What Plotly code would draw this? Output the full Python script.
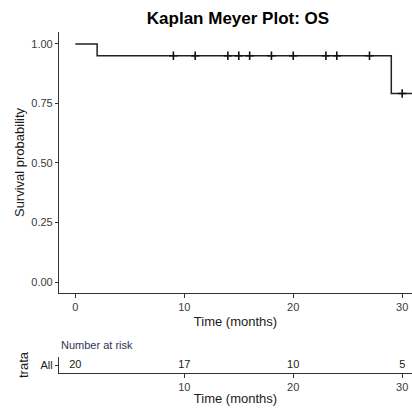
import plotly.graph_objects as go

# ---- data ----
step_times = [0, 2, 29, 31]
step_surv = [1.0, 0.95, 0.7917, 0.7917]
censor_times = [9, 11, 14, 15, 16, 18, 20, 23, 24, 27, 30]
censor_surv = [0.95] * 10 + [0.7917]
risk_times = [0, 10, 20, 30]
risk_counts = [20, 17, 10, 5]
strata = ["All"]
x_ticks = [0, 10, 20, 30]
y_ticks = [0.0, 0.25, 0.5, 0.75, 1.0]
y_tick_labels = ["0.00", "0.25", "0.50", "0.75", "1.00"]

W, H = 412, 414
FONT = "Liberation Sans, Arial, sans-serif"
TICKC = "#3a3a3a"
AXC = "#333333"
TXT = "#1a1a1a"

fig = go.Figure()
fig.add_trace(go.Scatter(x=step_times, y=step_surv, mode="lines",
                         line=dict(shape="hv", color="#222222", width=1.5),
                         xaxis="x", yaxis="y", showlegend=False, cliponaxis=True))
fig.add_trace(go.Scatter(x=censor_times, y=censor_surv, mode="markers",
                         marker=dict(symbol="cross-thin", size=6, line=dict(color="#111111", width=1.6)),
                         xaxis="x", yaxis="y", showlegend=False))
fig.add_trace(go.Scatter(x=risk_times, y=strata * len(risk_times), mode="text",
                         text=[str(v) for v in risk_counts], textposition="middle center",
                         textfont=dict(family=FONT, size=11, color=TXT),
                         xaxis="x2", yaxis="y2", showlegend=False, cliponaxis=False))

xr = [-1.5, 30.9]
fig.update_layout(
    width=W, height=H,
    margin=dict(l=0, r=0, t=0, b=0),
    paper_bgcolor="white", plot_bgcolor="white",
    font=dict(family=FONT, color=TICKC),
    title=dict(text="<b>Kaplan Meyer Plot: OS</b>", x=238 / W, xanchor="center",
               y=1 - 18 / H, yanchor="middle", font=dict(size=17, color="black", family=FONT)),
    xaxis=dict(domain=[59 / W, 1], range=xr, tickvals=x_ticks, ticks="outside", ticklen=4,
               tickcolor=AXC, showline=True, linecolor=AXC, linewidth=1.2, showgrid=False,
               zeroline=False, tickfont=dict(size=11, color=TICKC),
               title=dict(text="Time (months)", font=dict(size=13, color=TXT), standoff=4),
               anchor="y"),
    yaxis=dict(domain=[1 - 293 / H, 1 - 32 / H], range=[-0.046, 1.05], tickvals=y_ticks,
               ticktext=y_tick_labels, ticks="outside", ticklen=3, tickcolor=AXC,
               showline=True, linecolor=AXC, linewidth=1.2, showgrid=False, zeroline=False,
               tickfont=dict(size=11, color=TICKC),
               title=dict(text="Survival probability", font=dict(size=13, color=TXT), standoff=3),
               anchor="x"),
    xaxis2=dict(domain=[59 / W, 1], range=xr, tickvals=x_ticks[1:], ticks="outside", ticklen=4,
                tickcolor=AXC, showline=True, linecolor=AXC, linewidth=1.2, showgrid=False,
                zeroline=False, tickfont=dict(size=11, color=TICKC),
                title=dict(text="Time (months)", font=dict(size=13, color=TXT), standoff=1),
                anchor="y2"),
    yaxis2=dict(domain=[1 - 373 / H, 1 - 357 / H], range=[-0.5, 0.5], type="category",
                ticks="outside", ticklen=3, tickcolor=AXC, showline=True, linecolor=AXC,
                linewidth=1.2, showgrid=False, zeroline=False,
                tickfont=dict(size=11, color=TXT),
                title=dict(text="trata", font=dict(size=13, color=TXT), standoff=8),
                anchor="x2"),
)
fig.add_annotation(text="Number at risk", xref="paper", yref="paper", x=59 / W, y=1 - 345 / H,
                   xanchor="left", yanchor="middle", showarrow=False,
                   font=dict(size=11, color="#333355", family=FONT))
fig.write_html("out.html")
